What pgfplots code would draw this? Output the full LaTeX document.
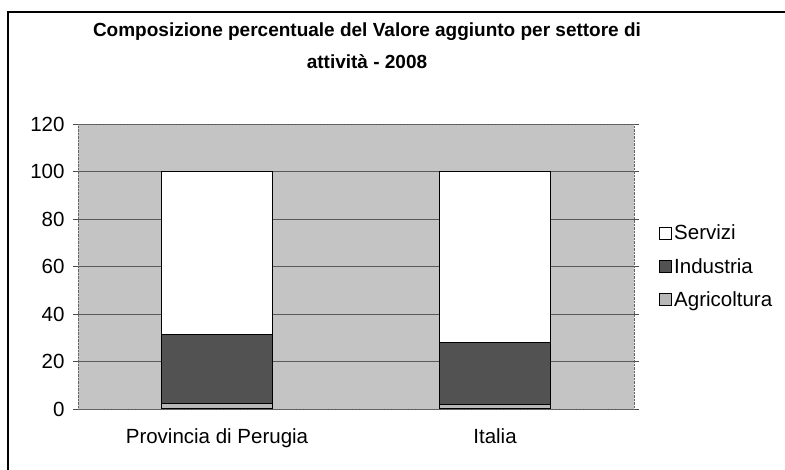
\documentclass[border=0pt]{standalone}
\usepackage{pgfplots}
\pgfplotsset{compat=1.18}
\usepackage{fontspec}
\setmainfont{Liberation Sans}
\begin{document}
\begin{tikzpicture}[x=1pt,y=1pt]
\useasboundingbox (0,0) rectangle (785,470);
\fill[white] (0,0) rectangle (785,470);
\draw[line width=1.2pt] (8,0) -- (8,458) -- (785,458);
\node[font=\fontsize{19}{32}\selectfont\bfseries, align=center] at (367,424) {Composizione percentuale del Valore aggiunto per settore di\\attività - 2008};
\begin{axis}[
  at={(78pt,61pt)}, anchor=south west,
  scale only axis, width=556pt, height=285pt,
  ybar stacked, bar width=111pt,
  xmin=-0.5, xmax=1.5, ymin=0, ymax=120,
  ytick={0,20,...,120},
  xtick={0,1}, xticklabels={Provincia di Perugia, Italia},
  x tick style={draw=none},
  y tick style={black!70, line width=0.6pt},
  tick align=outside, major tick length=5pt,
  ymajorgrids, grid style={black!65, line width=0.6pt},
  axis background/.style={fill=black!23},
  axis line style={black!60, densely dotted},
  tick label style={font=\fontsize{20.5}{23}\selectfont},
  yticklabel style={xshift=-5pt},
  xticklabel style={yshift=-11pt},
  /pgf/number format/assume math mode=true,
  reverse legend,
  legend style={at={(1.04,0.5)}, anchor=west, draw=none, fill=none,
    font=\fontsize{20.5}{23}\selectfont, row sep=13pt, cells={anchor=west}},
  legend image code/.code={\draw[#1, draw=black, line width=0.8pt] (0pt,-6pt) rectangle (12pt,6pt);},
]
\addplot[fill=black!28, draw=black, line width=1pt] coordinates {(0,2.4) (1,1.9)};
\addplot[fill=black!68, draw=black, line width=1pt] coordinates {(0,28.8) (1,26.0)};
\addplot[fill=white, draw=black, line width=1pt] coordinates {(0,68.8) (1,72.1)};
\legend{Agricoltura, Industria, Servizi}
\end{axis}
\end{tikzpicture}
\end{document}
